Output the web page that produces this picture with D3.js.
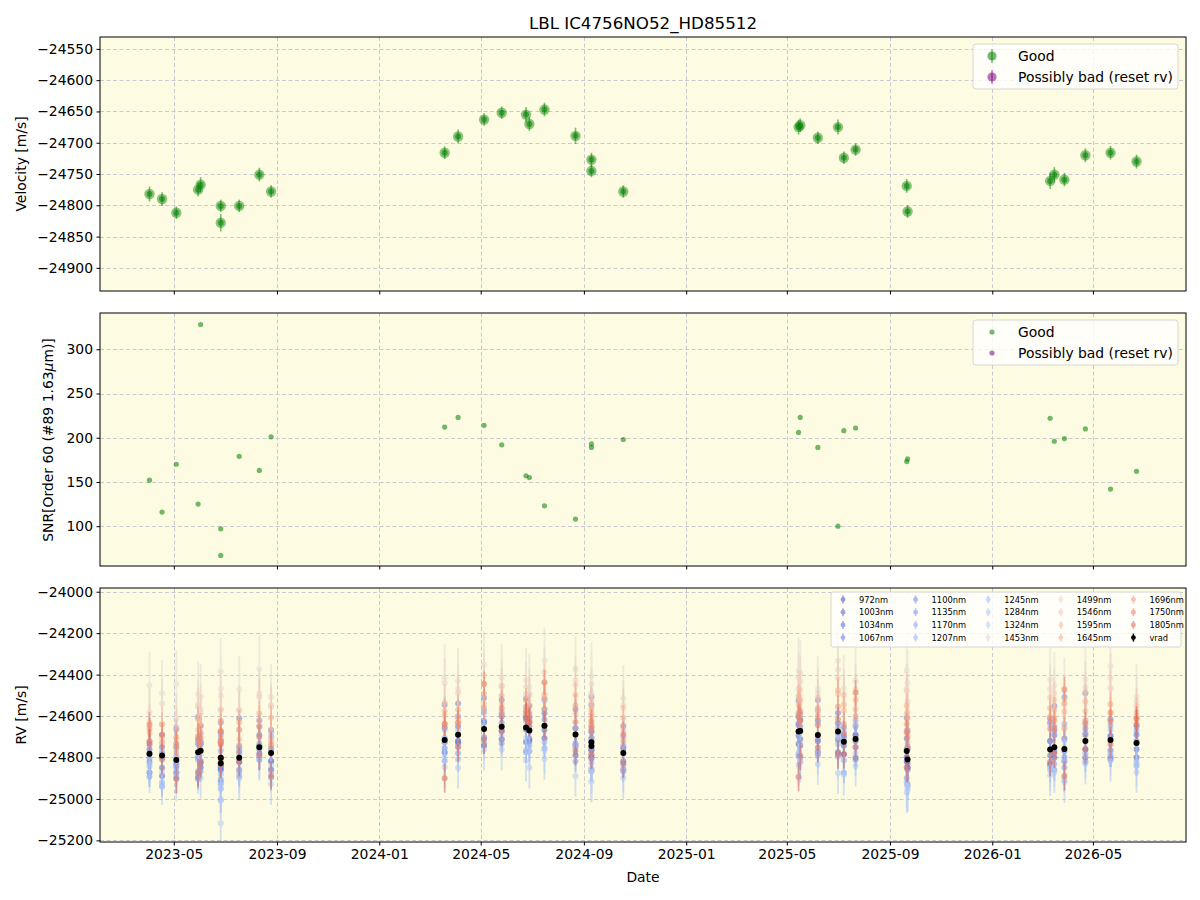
<!DOCTYPE html>
<html>
<head>
<meta charset="utf-8">
<script src="https://cdn.jsdelivr.net/npm/d3@7"></script>
<style>
  body { margin: 0; background: #fff; }
  svg { display: block; font-family: "DejaVu Sans", sans-serif; }
</style>
</head>
<body>
<div id="chart"></div>
<script>
// === Data ===
const dates = [
  "2023-04-02", "2023-04-17", "2023-05-04", "2023-05-30", "2023-06-02",
  "2023-06-26", "2023-06-26", "2023-07-18", "2023-08-11", "2023-08-25",
  "2024-03-19", "2024-04-04", "2024-05-05", "2024-05-26", "2024-06-24",
  "2024-06-28", "2024-07-16", "2024-08-22", "2024-09-10", "2024-09-10",
  "2024-10-18", "2025-05-15", "2025-05-17", "2025-06-07", "2025-07-01",
  "2025-07-08", "2025-07-22", "2025-09-21", "2025-09-22", "2026-03-11",
  "2026-03-16", "2026-03-28", "2026-04-22", "2026-05-22", "2026-06-22"
];
const velocity = [
  -24782, -24790, -24812, -24775, -24767, -24801, -24828, -24801, -24751, -24778,
  -24716, -24690, -24663, -24652, -24655, -24670, -24647, -24689, -24727, -24745,
  -24778, -24675, -24672, -24692, -24675, -24724, -24711, -24769, -24810, -24761,
  -24751, -24759, -24720, -24716, -24730
];
const velocityErr = [
  12, 11, 10, 11, 12, 10, 14, 10, 11, 10,
  10, 11, 10, 10, 12, 11, 11, 13, 11, 10,
  10, 12, 11, 10, 12, 10, 10, 11, 10, 13,
  12, 11, 11, 11, 11
];
const snr = [
  152, 116, 170, 125, 328, 97, 67, 179, 163, 201,
  212, 223, 214, 192, 157, 155, 123, 108, 193, 189,
  198, 206, 223, 189, 100, 208, 211, 173, 176, 222,
  196, 199, 210, 142, 162
];

const bands = [
  "972nm", "1003nm", "1034nm", "1067nm", "1100nm", "1135nm", "1170nm", "1207nm",
  "1245nm", "1284nm", "1324nm", "1453nm", "1499nm", "1546nm", "1595nm", "1645nm",
  "1696nm", "1750nm", "1805nm"
];
const bandWavelength = [972, 1003, 1034, 1067, 1100, 1135, 1170, 1207, 1245, 1284,
  1324, 1453, 1499, 1546, 1595, 1645, 1696, 1750, 1805];
const bandErr = [40, 35, 40, 45, 45, 50, 55, 60, 90, 100, 110, 160, 120, 90, 70, 60, 55, 60, 70];

// per-band RV, as offset from vrad of the same epoch [m/s]
const rv972  = [-90,-100,-60,-120,-80,-40,-20,-60,-30,-80,-60,-40,-80,-60,-70,-50,-60,-100,-70,-60,-80,-60,-70,-80,-100,-60,-90,-50,-40,-70,-50,-60,-80,-90,-70];
const rv1003 = [-40,-60,-20,-30,-50,0,-30,-20,10,-40,-10,-30,-40,-20,-10,-40,-20,-50,-30,-20,-40,-20,-40,-30,-40,-20,-10,-30,-20,-30,-20,-10,-40,-50,-30];
const rv1034 = [20,40,60,40,30,80,100,30,60,20,60,40,30,50,40,20,60,30,50,40,20,30,50,70,40,30,20,60,50,40,60,50,30,20,40];
const rv1067 = [60,100,150,170,120,170,150,190,130,110,170,150,150,130,140,120,130,120,220,200,130,150,90,170,90,70,20,160,140,130,200,250,230,100,80];
const rv1100 = [-20,10,-30,60,40,-60,-80,50,-10,-40,-40,-30,40,20,60,80,30,-60,10,-20,30,40,20,-20,-10,20,60,-30,-50,40,80,-40,60,20,10];
const rv1135 = [-110,-150,-80,-130,-100,-120,-100,-90,-60,-120,-100,-90,-70,-80,-120,-100,-110,-130,-140,-120,-90,-110,-130,-90,-120,-150,-100,-130,-120,-80,-110,-90,-100,-80,-110];
const rv1170 = [40,-10,20,-20,80,110,60,20,100,80,10,90,80,70,100,60,80,30,60,70,80,70,60,120,20,0,90,10,60,150,100,120,40,70,60];
const rv1207 = [-60,-130,-40,-90,-60,-150,-180,-70,-50,-90,-60,-120,-40,-60,-110,-70,-80,-50,-100,-110,-60,-120,-150,-100,-60,-90,-40,-150,-130,-100,-80,-150,-60,-70,-90];
const rv1245 = [0,20,-20,60,40,-80,-50,40,20,100,50,20,90,60,30,40,120,-40,20,0,40,80,20,60,-30,50,70,100,80,120,60,40,90,50,0];
const rv1284 = [-90,-140,-60,-100,-130,-200,-290,-100,-60,-150,-130,-160,-100,-110,-160,-180,-160,-200,-190,-170,-120,-160,-150,-140,-200,-160,-130,-200,-150,-125,-120,-160,-110,-100,-140];
const rv1324 = [-50,-80,-90,-40,-20,-150,-120,-60,-40,-60,-80,-60,-40,-40,-50,-80,-120,-60,-130,-120,-80,-100,-60,-80,-120,-90,-70,-160,-140,-90,-80,-60,-70,-60,-100];
const rv1453 = [330,300,368,280,260,418,360,330,378,270,302,259,310,238,226,210,314,316,322,300,264,295,280,222,342,258,282,389,370,339,300,280,296,358,223];
const rv1499 = [200,250,200,230,200,300,260,230,260,220,276,220,260,200,196,180,260,262,240,250,230,260,240,200,300,230,240,300,280,290,260,240,260,300,200];
const rv1546 = [150,150,160,220,180,230,200,229,244,231,180,201,218,194,161,170,210,240,200,190,217,205,200,180,260,223,225,291,230,250,230,220,240,250,177];
const rv1595 = [100,80,70,110,90,130,150,90,130,110,120,58,120,110,100,90,130,100,143,130,110,130,100,110,181,150,144,180,130,160,140,180,144,132,150];
const rv1645 = [60,150,40,160,120,180,100,170,163,170,140,120,170,150,130,120,150,190,160,150,170,170,150,130,200,180,190,220,200,200,180,220,190,173,130];
const rv1696 = [120,60,110,60,40,80,120,60,100,60,74,80,100,60,70,40,80,140,80,100,60,90,80,90,120,86,110,130,110,150,130,100,100,132,117];
const rv1750 = [140,100,80,78,60,127,90,135,50,40,80,58,218,90,80,60,210,60,100,90,90,70,50,48,60,40,225,90,60,100,90,288,80,90,117];
const rv1805 = [50,-20,-92,-100,-60,-30,20,-20,-40,-110,-184,-60,-50,-20,47,40,0,-80,-60,-40,-50,-219,-120,-60,-110,-60,-40,-80,-40,-60,-30,-130,-40,-20,90];
const bandOffsets = [rv972, rv1003, rv1034, rv1067, rv1100, rv1135, rv1170, rv1207,
  rv1245, rv1284, rv1324, rv1453, rv1499, rv1546, rv1595, rv1645, rv1696, rv1750, rv1805];

// === Layout ===
const width = 1200, height = 900;
const left = 100, right = 1186;
const bg = "#fdfbe1";
const gridColor = "#c9c9cf";

const parse = d3.utcParse("%Y-%m-%d");
const xScale = d3.scaleUtc()
  .domain([parse("2023-02-02"), parse("2026-08-20")])
  .range([left, right]);
const xTicks = xScale.ticks(d3.utcMonth.every(4));

const coolwarm = d3.scaleLinear()
  .domain([0, 0.143, 0.286, 0.429, 0.5, 0.571, 0.714, 0.857, 1])
  .range(["#3b4cc0", "#6788ee", "#9abbff", "#c9d7f0", "#dddcdc", "#edd1c2", "#f7a889", "#e26952", "#b40426"]);
const bandT = d3.scaleLinear().domain([972, 1805]).range([0, 0.88]);
const bandColor = i => coolwarm(bandT(bandWavelength[i]));

const svg = d3.select("#chart").append("svg")
  .attr("width", width)
  .attr("height", height);

svg.append("rect").attr("width", width).attr("height", height).attr("fill", "#fff");

function makePanel(id, y0, y1, domain, yTicks, showXLabels) {
  const yScale = d3.scaleLinear().domain(domain).range([y1, y0]);

  svg.append("rect")
    .attr("x", left).attr("y", y0)
    .attr("width", right - left).attr("height", y1 - y0)
    .attr("fill", bg);

  svg.append("clipPath").attr("id", id)
    .append("rect")
    .attr("x", left).attr("y", y0)
    .attr("width", right - left).attr("height", y1 - y0);

  // grid
  const grid = svg.append("g")
    .attr("stroke", gridColor)
    .attr("stroke-width", 1)
    .attr("stroke-dasharray", "4,2.5");
  grid.selectAll(".gx").data(xTicks).join("line")
    .attr("x1", d => Math.round(xScale(d)) + 0.5).attr("x2", d => Math.round(xScale(d)) + 0.5)
    .attr("y1", y0).attr("y2", y1);
  grid.selectAll(".gy").data(yTicks).join("line")
    .attr("x1", left).attr("x2", right)
    .attr("y1", d => Math.round(yScale(d)) + 0.5).attr("y2", d => Math.round(yScale(d)) + 0.5);

  // axes
  const yAxis = svg.append("g")
    .attr("transform", `translate(${left},0)`)
    .call(d3.axisLeft(yScale).tickValues(yTicks).tickFormat(d3.format("d"))
      .tickSize(3.5).tickPadding(3.5));
  yAxis.select(".domain").remove();
  yAxis.selectAll("text").attr("font-size", 13.9).attr("font-family", "DejaVu Sans").attr("fill", "#000");

  const xAxis = svg.append("g")
    .attr("transform", `translate(0,${y1})`)
    .call(d3.axisBottom(xScale).tickValues(xTicks).tickFormat(d3.utcFormat("%Y-%m"))
      .tickSize(3.5).tickPadding(3.5));
  xAxis.select(".domain").remove();
  xAxis.selectAll("text")
    .attr("font-size", 13.9).attr("font-family", "DejaVu Sans").attr("fill", "#000")
    .style("display", showXLabels ? null : "none");

  const plot = svg.append("g").attr("clip-path", `url(#${id})`);

  return { plot, yScale, y0, y1 };
}

function drawFrame(p) {
  svg.append("rect")
    .attr("x", left).attr("y", p.y0)
    .attr("width", right - left).attr("height", p.y1 - p.y0)
    .attr("fill", "none").attr("stroke", "#000").attr("stroke-width", 1);
}

// === Top panel: velocity ===
const pTop = makePanel("clipTop", 37, 291, [-24937, -24531],
  [-24900, -24850, -24800, -24750, -24700, -24650, -24600, -24550], false);

const vel = dates.map((d, i) => ({ date: parse(d), v: velocity[i], e: velocityErr[i] }));

pTop.plot.selectAll(".vbar").data(vel).join("line")
  .attr("x1", d => xScale(d.date)).attr("x2", d => xScale(d.date))
  .attr("y1", d => pTop.yScale(d.v - d.e)).attr("y2", d => pTop.yScale(d.v + d.e))
  .attr("stroke", "green").attr("stroke-width", 1.6).attr("opacity", 0.5);
pTop.plot.selectAll(".vout").data(vel).join("circle")
  .attr("cx", d => xScale(d.date)).attr("cy", d => pTop.yScale(d.v))
  .attr("r", 5.2).attr("fill", "green").attr("opacity", 0.45);
pTop.plot.selectAll(".vin").data(vel).join("circle")
  .attr("cx", d => xScale(d.date)).attr("cy", d => pTop.yScale(d.v))
  .attr("r", 3).attr("fill", "green").attr("opacity", 0.55);
drawFrame(pTop);

// === Middle panel: SNR ===
const pMid = makePanel("clipMid", 313, 566, [55, 341], [100, 150, 200, 250, 300], false);

pMid.plot.selectAll(".snr").data(dates).join("circle")
  .attr("cx", d => xScale(parse(d)))
  .attr("cy", (d, i) => pMid.yScale(snr[i]))
  .attr("r", 2.6).attr("fill", "green").attr("opacity", 0.55);
drawFrame(pMid);

// === Bottom panel: per-band RV ===
const pBot = makePanel("clipBot", 588, 842, [-25208, -23982],
  [-25200, -25000, -24800, -24600, -24400, -24200, -24000], true);

bands.forEach((b, i) => {
  const pts = dates.map((d, j) => ({ date: parse(d), v: velocity[j] + bandOffsets[i][j] }));
  const g = pBot.plot.append("g").attr("opacity", 0.5);
  g.selectAll("line").data(pts).join("line")
    .attr("x1", d => xScale(d.date)).attr("x2", d => xScale(d.date))
    .attr("y1", d => pBot.yScale(d.v - bandErr[i])).attr("y2", d => pBot.yScale(d.v + bandErr[i]))
    .attr("stroke", bandColor(i)).attr("stroke-width", 1.8);
  g.selectAll("circle").data(pts).join("circle")
    .attr("cx", d => xScale(d.date)).attr("cy", d => pBot.yScale(d.v))
    .attr("r", 3).attr("fill", bandColor(i));
});

pBot.plot.selectAll(".vrbar").data(vel).join("line")
  .attr("x1", d => xScale(d.date)).attr("x2", d => xScale(d.date))
  .attr("y1", d => pBot.yScale(d.v - d.e)).attr("y2", d => pBot.yScale(d.v + d.e))
  .attr("stroke", "#000").attr("stroke-width", 1.5);
pBot.plot.selectAll(".vr").data(vel).join("circle")
  .attr("cx", d => xScale(d.date)).attr("cy", d => pBot.yScale(d.v))
  .attr("r", 3).attr("fill", "#000");
drawFrame(pBot);

// === Labels ===
svg.append("text")
  .attr("x", 643).attr("y", 29)
  .attr("text-anchor", "middle").attr("font-size", 16.7)
  .text("LBL IC4756NO52_HD85512");

svg.append("text")
  .attr("x", 643).attr("y", 882)
  .attr("text-anchor", "middle").attr("font-size", 13.9)
  .text("Date");

function yLabel(x, y, textFn) {
  const t = svg.append("text")
    .attr("transform", `translate(${x},${y}) rotate(-90)`)
    .attr("text-anchor", "middle").attr("font-size", 13.9);
  textFn(t);
}
yLabel(26, 164, t => t.text("Velocity [m/s]"));
yLabel(53, 440, t => {
  t.append("tspan").text("SNR[Order 60 (#89 1.63");
  t.append("tspan").attr("font-style", "italic").text("μ");
  t.append("tspan").text("m)]");
});
yLabel(26, 715, t => t.text("RV [m/s]"));

// === Legends ===
function bigLegend(x0, y0, withBars, r) {
  const g = svg.append("g");
  g.append("rect")
    .attr("x", x0).attr("y", y0).attr("width", 205).attr("height", 45).attr("rx", 3)
    .attr("fill", "#fff").attr("fill-opacity", 0.8)
    .attr("stroke", "#d6d6d6").attr("stroke-width", 1);
  const items = [{ label: "Good", color: "green" }, { label: "Possibly bad (reset rv)", color: "purple" }];
  items.forEach((it, i) => {
    const cy = y0 + 12 + i * 21;
    if (withBars) {
      g.append("line").attr("x1", x0 + 19).attr("x2", x0 + 19)
        .attr("y1", cy - 7).attr("y2", cy + 7)
        .attr("stroke", it.color).attr("stroke-width", 1.6).attr("opacity", 0.5);
    }
    g.append("circle").attr("cx", x0 + 19).attr("cy", cy).attr("r", r)
      .attr("fill", it.color).attr("opacity", 0.55);
    g.append("text").attr("x", x0 + 45).attr("y", cy + 5)
      .attr("font-size", 13.9).text(it.label);
  });
}
bigLegend(973, 44, true, 4.6);
bigLegend(973, 320, false, 2.6);

// bottom legend: 5 columns, filled column by column
const legendItems = bands.map((b, i) => ({ label: b, color: bandColor(i), alpha: 0.55 }))
  .concat([{ label: "vrad", color: "#000", alpha: 1 }]);
const lg = svg.append("g");
lg.append("rect")
  .attr("x", 831).attr("y", 592).attr("width", 350).attr("height", 55).attr("rx", 2)
  .attr("fill", "#fff").attr("fill-opacity", 0.8)
  .attr("stroke", "#d6d6d6").attr("stroke-width", 1);
legendItems.forEach((it, k) => {
  const col = Math.floor(k / 4), row = k % 4;
  const mx = 843 + col * 72.6, cy = 599.5 + row * 12.7;
  const item = lg.append("g").attr("opacity", it.alpha);
  item.append("line").attr("x1", mx).attr("x2", mx).attr("y1", cy - 4).attr("y2", cy + 4)
    .attr("stroke", it.color).attr("stroke-width", 1.5);
  item.append("circle").attr("cx", mx).attr("cy", cy).attr("r", 2.4).attr("fill", it.color);
  lg.append("text").attr("x", mx + 16).attr("y", cy + 3)
    .attr("font-size", 8.3).text(it.label);
});
</script>
</body>
</html>
